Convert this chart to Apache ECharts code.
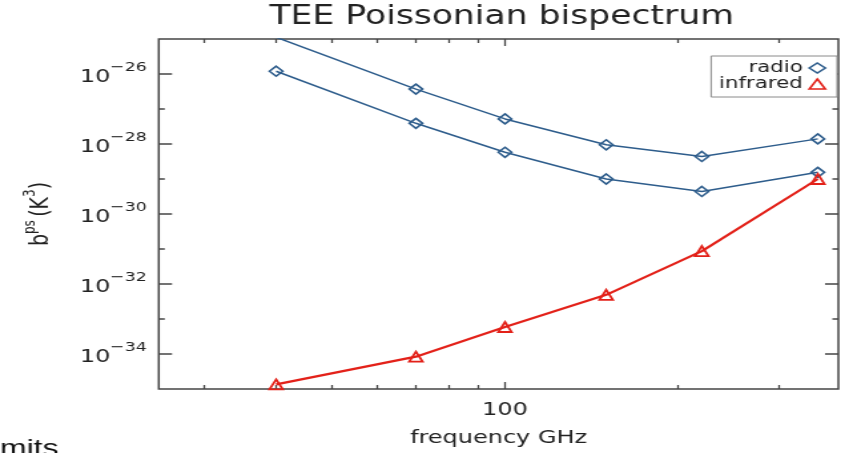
<!DOCTYPE html>
<html>
<head>
<meta charset="utf-8">
<script src="https://cdn.jsdelivr.net/npm/echarts@6/dist/echarts.min.js"></script>
<style>
  html, body { margin: 0; padding: 0; background: #fff; overflow: hidden; }
  #wrap { width: 849px; height: 453px; overflow: hidden; position: relative; }
  /* the reference plot is horizontally stretched; the chart is drawn narrower and stretched the same way */
  #c { width: 638px; height: 453px; transform: scaleX(1.330721); transform-origin: 0 0; }
</style>
</head>
<body>
<div id="wrap"><div id="c"></div></div>
<script>
// ---- data, b^ps in K^3 ----
const frequencies   = [40, 70, 100, 150, 220, 350];            // GHz
const radioUpper    = [1.12e-25, 3.7e-27, 5.2e-28, 9.5e-29, 4.4e-29, 1.4e-28];
const radioLower    = [1.2e-26, 3.9e-28, 5.8e-29, 1.0e-29, 4.4e-30, 1.55e-29];
const infrared      = [1.35e-35, 8.4e-35, 5.9e-34, 4.9e-33, 8.7e-32, 1.0e-29];

// ---- ticks / labels ----
const xMinorTicks   = [30, 40, 50, 60, 70, 80, 90, 200, 300];
const xMajorTicks   = [100];
const yMajorExps    = [-34, -32, -30, -28, -26];
const yMinorExps    = [-33, -31, -29, -27];
const yMinExp = -35, yMaxExp = -25;

// ECharts' log scale rounds extents of ~1e-35 to zero, so the y values are
// handed to the axis in units of 1e-35 K^3; the labels show the true K^3 powers.
const Y_UNIT = 1e-35;

const BLUE = '#2e5d8c';
const RED = '#e32119';
const FRAME = '#454545';
const TEXT = '#222';
const FONT = 'DejaVu Sans';

const pairs = (ys) => frequencies.map((f, i) => [f, ys[i] / Y_UNIT]);
const toAxis = (e) => Math.pow(10, e) / Y_UNIT;
const expOf = (v) => Math.round(Math.log10(v * Y_UNIT));

function xAx(position, ticks, len, withLabel) {
  const ax = {
    type: 'log', logBase: 10, min: 25, max: 380, position: position,
    axisLine: { show: false }, splitLine: { show: false }, minorTick: { show: false },
    axisTick: { show: true, inside: true, length: len, customValues: ticks,
                lineStyle: { color: FRAME, width: 1.3 } },
    axisLabel: { show: false }
  };
  if (withLabel) {
    ax.axisLabel = { show: true, customValues: xMajorTicks, margin: 12,
      fontFamily: FONT, fontSize: 18, color: TEXT, formatter: (v) => String(Math.round(v)) };
    ax.name = 'frequency GHz';
    ax.nameLocation = 'middle';
    ax.nameGap = 40;
    ax.nameTextStyle = { fontFamily: FONT, fontSize: 18, color: TEXT };
  }
  return ax;
}

function yAx(position, exps, len, withLabel) {
  const ax = {
    type: 'log', logBase: 10, min: toAxis(yMinExp), max: toAxis(yMaxExp), position: position,
    axisLine: { show: false }, splitLine: { show: false }, minorTick: { show: false },
    axisTick: { show: true, inside: true, length: len, customValues: exps.map(toAxis),
                lineStyle: { color: FRAME, width: 1.5 } },
    axisLabel: { show: false }
  };
  if (withLabel) {
    ax.axisLabel = {
      show: true, customValues: yMajorExps.map(toAxis), margin: 9, color: TEXT,
      formatter: (v) => '{b|10}{s|\u2212' + (-expOf(v)) + '}',
      rich: {
        b: { fontFamily: FONT, fontSize: 18, color: TEXT, padding: [6, 0, 0, 0] },
        s: { fontFamily: FONT, fontSize: 13, color: TEXT, padding: [0, 0, 12, 0] }
      }
    };
    ax.name = '{b|b}{s|ps} {b|(K}{s|3}{b|)}';
    ax.nameLocation = 'middle';
    ax.nameGap = 79;
    ax.nameTextStyle = {
      rich: {
        b: { fontFamily: FONT, fontSize: 19, color: TEXT, padding: [4, 0, 0, 0] },
        s: { fontFamily: FONT, fontSize: 12, color: TEXT, padding: [0, 0, 11, 0] }
      }
    };
  }
  return ax;
}

const chart = echarts.init(document.getElementById('c'), null, { renderer: 'canvas' });
chart.setOption({
  animation: false,
  backgroundColor: '#fff',
  title: {
    text: 'TEE Poissonian bispectrum', left: 377, top: 4, textAlign: 'center', padding: 0,
    textStyle: { fontFamily: FONT, fontSize: 26, fontWeight: 'normal', color: TEXT }
  },
  legend: {
    orient: 'vertical', right: 9, top: 56, align: 'right',
    itemGap: 0, itemWidth: 12, itemHeight: 10,
    padding: [4, 8, 5, 6],
    borderColor: '#8a8a8a', borderWidth: 1, backgroundColor: '#fff',
    textStyle: { fontFamily: FONT, fontSize: 16, color: TEXT },
    data: [
      { name: 'radio', icon: 'diamond',
        itemStyle: { color: 'rgba(0,0,0,0)', borderColor: BLUE, borderWidth: 1.6 } },
      { name: 'infrared', icon: 'triangle',
        itemStyle: { color: 'rgba(0,0,0,0)', borderColor: RED, borderWidth: 1.6 } }
    ]
  },
  grid: {
    left: 119.3, right: 8, top: 39, bottom: 64,
    show: true, borderColor: FRAME, borderWidth: 1.5, backgroundColor: '#fff',
    outerBoundsMode: 'none', containLabel: false
  },
  xAxis: [
    xAx('bottom', xMinorTicks, 4, true),
    xAx('top', xMinorTicks, 4, false),
    xAx('bottom', xMajorTicks, 7, false),
    xAx('top', xMajorTicks, 7, false)
  ],
  yAxis: [
    yAx('left', yMajorExps, 10, true),
    yAx('right', yMajorExps, 10, false),
    yAx('left', yMinorExps, 4.5, false),
    yAx('right', yMinorExps, 4.5, false)
  ],
  tooltip: { show: false },
  series: [
    { name: 'radio', type: 'line', data: pairs(radioUpper), clip: true,
      symbol: 'diamond', symbolSize: 10, showAllSymbol: true,
      lineStyle: { color: BLUE, width: 1.5 },
      itemStyle: { color: 'rgba(0,0,0,0)', borderColor: BLUE, borderWidth: 1.6 } },
    { name: 'radio', type: 'line', data: pairs(radioLower), clip: true,
      symbol: 'diamond', symbolSize: 10, showAllSymbol: true,
      lineStyle: { color: BLUE, width: 1.5 },
      itemStyle: { color: 'rgba(0,0,0,0)', borderColor: BLUE, borderWidth: 1.6 } },
    { name: 'infrared', type: 'line', data: pairs(infrared), clip: true,
      symbol: 'triangle', symbolSize: 10, showAllSymbol: true,
      lineStyle: { color: RED, width: 2.2 },
      itemStyle: { color: 'rgba(0,0,0,0)', borderColor: RED, borderWidth: 1.8 } }
  ],
  graphic: [
    { type: 'text', left: 0, top: 437, silent: true,
      style: { text: 'mits', fontFamily: 'Liberation Sans', fontSize: 24, fill: '#111' } }
  ]
});
</script>
</body>
</html>
